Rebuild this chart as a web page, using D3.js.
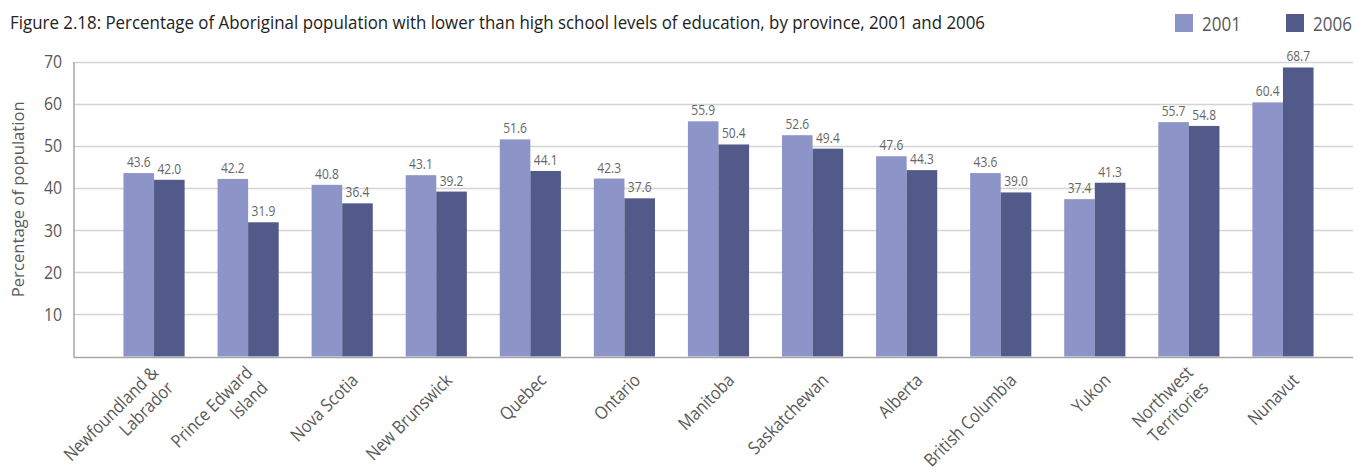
<!DOCTYPE html>
<html>
<head>
<meta charset="utf-8">
<script src="https://cdn.jsdelivr.net/npm/d3@7"></script>
<style>
  body { margin: 0; background: #fff; }
  text { font-family: "Open Sans", "DejaVu Sans", sans-serif; }
</style>
</head>
<body>
<div id="graph"></div>
<script>
// Provinces and territories, in drawing order ('\n' splits a label over two lines)
var provinces = [ 'Newfoundland &\nLabrador', 'Prince Edward\nIsland', 'Nova Scotia', 'New Brunswick',
                  'Quebec', 'Ontario', 'Manitoba', 'Saskatchewan', 'Alberta', 'British Columbia',
                  'Yukon', 'Northwest\nTerritories', 'Nunavut' ];

var years = [ '2001', '2006' ];

var values2001 = [ 43.6, 42.2, 40.8, 43.1, 51.6, 42.3, 55.9, 52.6, 47.6, 43.6, 37.4, 55.7, 60.4 ];
var values2006 = [ 42.0, 31.9, 36.4, 39.2, 44.1, 37.6, 50.4, 49.4, 44.3, 39.0, 41.3, 54.8, 68.7 ];

var yTicks = [ 10, 20, 30, 40, 50, 60, 70 ];

var titleText = 'Figure 2.18: Percentage of Aboriginal population with lower than high school levels of education, by province, 2001 and 2006';
var yTitle    = 'Percentage of population';

var colours = [ '#8c94c8', '#525a8a' ];

var width  = 1356;
var height = 472;

var plot = { left: 74, right: 1353, top: 62, bottom: 356.5 };

var svg = d3.select ('#graph').append ('svg')
            .attr ('width', width)
            .attr ('height', height);

// Title, squeezed to the condensed face width
svg.append ('text')
   .attr ('x', 10)
   .attr ('y', 29)
   .attr ('font-size', 18)
   .attr ('fill', '#222')
   .attr ('textLength', 975)
   .attr ('lengthAdjust', 'spacingAndGlyphs')
   .text (titleText);

// Scales
var x0 = d3.scaleBand ()
           .domain (d3.range (provinces.length))
           .range ([ 107, 1330 ])
           .paddingInner (0.35)
           .paddingOuter (0.175);

var x1 = d3.scaleBand ()
           .domain (years)
           .range ([ 0, x0.bandwidth () ]);

var y = d3.scaleLinear ()
          .domain ([ 0, 70 ])
          .range ([ plot.bottom, plot.top ]);

// Gridlines
svg.append ('g')
   .selectAll ('line')
   .data (yTicks)
   .enter ()
   .append ('line')
   .attr ('x1', plot.left)
   .attr ('x2', plot.right)
   .attr ('y1', function (d) { return Math.round (y (d)) + 0.5; })
   .attr ('y2', function (d) { return Math.round (y (d)) + 0.5; })
   .attr ('stroke', '#d4d4d4')
   .attr ('stroke-width', 1.3);

// Y axis labels
var yAxis = svg.append ('g')
               .attr ('transform', 'translate(' + plot.left + ',0)')
               .call (d3.axisLeft (y).tickValues (yTicks).tickSize (0).tickPadding (11));
yAxis.select ('.domain').remove ();
yAxis.selectAll ('text')
     .attr ('font-family', '"Open Sans", sans-serif')
     .attr ('font-size', 18)
     .attr ('fill', '#595959')
     .attr ('transform', 'scale(0.88,1)')
     .attr ('x', -12 / 0.88);

svg.append ('text')
   .attr ('transform', 'translate(24,' + (y (35) - 10) + ') rotate(-90)')
   .attr ('text-anchor', 'middle')
   .attr ('font-size', 16)
   .attr ('fill', '#595959')
   .attr ('textLength', 196)
   .attr ('lengthAdjust', 'spacingAndGlyphs')
   .text (yTitle);

// Bars
var series = [ values2001, values2006 ];

var groups = svg.append ('g')
                .selectAll ('g')
                .data (provinces)
                .enter ()
                .append ('g')
                .attr ('transform', function (d, i) { return 'translate(' + x0 (i) + ',0)'; });

groups.selectAll ('rect')
      .data (function (d, i) { return years.map (function (yr, k) { return { year: yr, k: k, v: series[k][i] }; }); })
      .enter ()
      .append ('rect')
      .attr ('x', function (d) { return x1 (d.year); })
      .attr ('width', x1.bandwidth ())
      .attr ('y', function (d) { return y (d.v); })
      .attr ('height', function (d) { return y (0) - y (d.v); })
      .attr ('fill', function (d) { return colours[d.k]; });

// Value labels
groups.selectAll ('.valLabel')
      .data (function (d, i) { return years.map (function (yr, k) { return { year: yr, k: k, v: series[k][i] }; }); })
      .enter ()
      .append ('text')
      .attr ('class', 'valLabel')
      .attr ('text-anchor', 'middle')
      .attr ('font-size', 15)
      .attr ('fill', '#666')
      .attr ('transform', function (d) {
          return 'translate(' + (x1 (d.year) + x1.bandwidth () / 2) + ',' + (y (d.v) - 6) + ') scale(0.8,1)';
      })
      .text (function (d) { return d.v.toFixed (1); });

// Axis lines
svg.append ('line')
   .attr ('x1', plot.left).attr ('x2', plot.left)
   .attr ('y1', plot.top).attr ('y2', plot.bottom + 1)
   .attr ('stroke', '#a6a6a6').attr ('stroke-width', 1.5);

svg.append ('line')
   .attr ('x1', plot.left).attr ('x2', plot.right)
   .attr ('y1', plot.bottom + 1).attr ('y2', plot.bottom + 1)
   .attr ('stroke', '#a6a6a6').attr ('stroke-width', 1.5);

// Category labels, rotated
var xLabels = svg.append ('g')
                 .selectAll ('text')
                 .data (provinces)
                 .enter ()
                 .append ('text')
                 .attr ('text-anchor', 'end')
                 .attr ('font-size', 18)
                 .attr ('fill', '#595959')
                 .attr ('transform', function (d, i) {
                     var cx = x0 (i) + x0.bandwidth () / 2;
                     var shift = d.indexOf ('\n') >= 0 ? -4 : 0;
                     return 'translate(' + (cx + 17 + shift) + ',' + (plot.bottom + 25) + ') rotate(-45) scale(0.88,1)';
                 });

xLabels.each (function (d) {
    var lines = d.split ('\n');
    var sel = d3.select (this);
    var start = -(lines.length - 1) * 0.6;
    lines.forEach (function (line, j) {
        sel.append ('tspan')
           .attr ('x', 0)
           .attr ('dy', (j == 0 ? start : 1.2) + 'em')
           .text (line);
    });
});

// Legend
var legend = svg.append ('g')
                .selectAll ('g')
                .data (years)
                .enter ()
                .append ('g')
                .attr ('transform', function (d, i) { return 'translate(' + (1175 + i * 111) + ',14)'; });

legend.append ('rect')
      .attr ('width', 18)
      .attr ('height', 18)
      .attr ('fill', function (d, i) { return colours[i]; });

legend.append ('text')
      .attr ('x', 27)
      .attr ('y', 17)
      .attr ('font-size', 20)
      .attr ('fill', '#595959')
      .attr ('transform', 'scale(0.85,1) translate(' + (27 / 0.85 - 27) + ',0)')
      .text (function (d) { return d; });
</script>
</body>
</html>
